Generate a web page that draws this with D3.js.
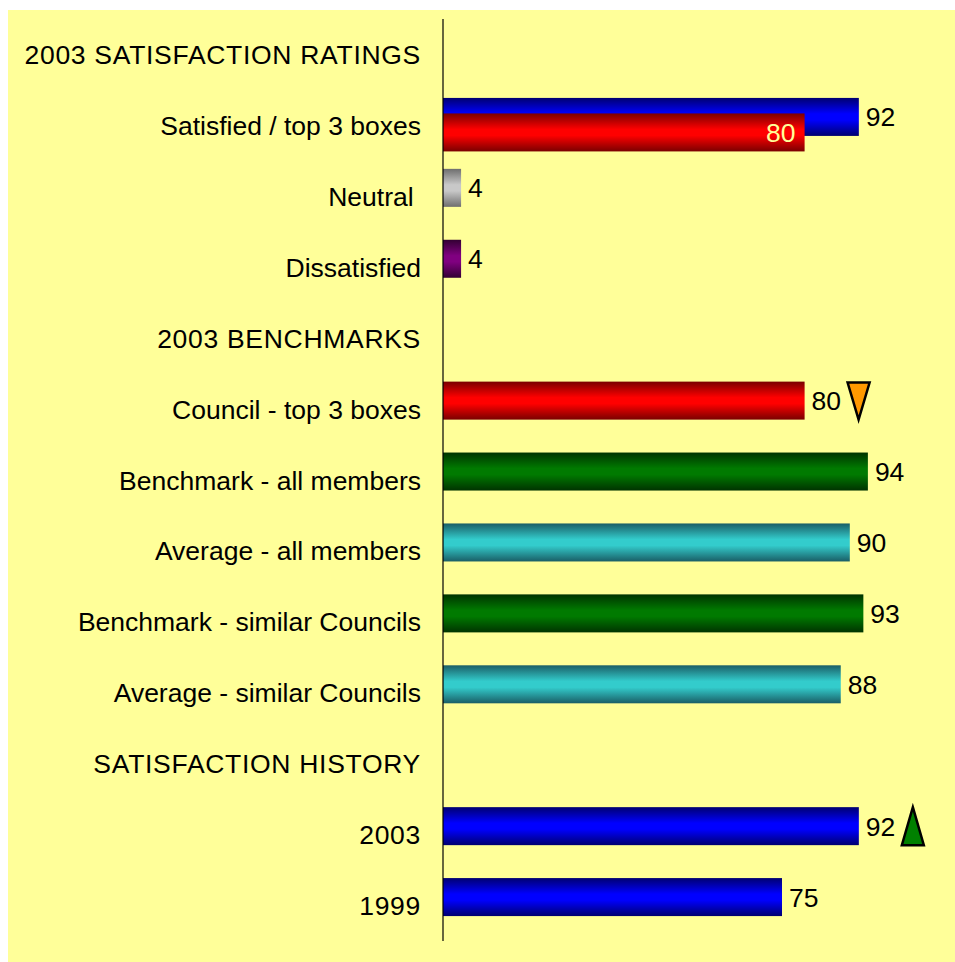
<!DOCTYPE html>
<html lang="en">
<head>
    <meta charset="UTF-8">
    <title>2003 Satisfaction Ratings</title>
    <script src="https://cdnjs.cloudflare.com/ajax/libs/d3/7.8.5/d3.min.js"></script>
    <style>
        body { margin: 0; background: #ffffff; }
        svg { display: block; }
        text { font-family: "Liberation Sans", Arial, sans-serif; }
    </style>
</head>
<body>
    <svg id="chart" width="955" height="962"></svg>

    <script>
        // Row labels, top to bottom (headings have no bar)
        const categories = [
            "2003 SATISFACTION RATINGS",
            "Satisfied / top 3 boxes",
            "Neutral ",
            "Dissatisfied",
            "2003 BENCHMARKS",
            "Council - top 3 boxes",
            "Benchmark - all members",
            "Average - all members",
            "Benchmark - similar Councils",
            "Average - similar Councils",
            "SATISFACTION HISTORY",
            "2003",
            "1999"
        ];

        // Bars: which row, value, series slot inside the row, colour key
        const barCategories = [
            "Satisfied / top 3 boxes", "Satisfied / top 3 boxes", "Neutral ", "Dissatisfied",
            "Council - top 3 boxes", "Benchmark - all members", "Average - all members",
            "Benchmark - similar Councils", "Average - similar Councils", "2003", "1999"
        ];
        const barValues = [92, 80, 4, 4, 80, 94, 90, 93, 88, 92, 75];
        const barSlots = [0, 1, 0, 0, 0, 0, 0, 0, 0, 0, 0];
        const barColors = ["blue", "red", "grey", "purple", "red", "green", "teal", "green", "teal", "blue", "blue"];
        // value label drawn inside the bar (light text) for the overlapping red bar
        const labelInside = [false, true, false, false, false, false, false, false, false, false, false];

        // Trend arrows next to some bars
        const markerCategories = ["Council - top 3 boxes", "2003"];
        const markerValues = [80, 92];
        const markerDirections = ["down", "up"];

        // gradient colours: [edge, middle]
        const palette = {
            blue:   ["#000070", "#0000ff"],
            red:    ["#7a0000", "#ff0000"],
            grey:   ["#6e6e6e", "#c8c8c8"],
            purple: ["#330033", "#800080"],
            green:  ["#003300", "#007a00"],
            teal:   ["#1a5e66", "#33cccc"]
        };
        const markerFill = { down: "#ff9900", up: "#008000" };

        const svg = d3.select("#chart");
        const width = 955, height = 962;

        // yellow chart area
        svg.append("rect")
            .attr("x", 8).attr("y", 10)
            .attr("width", width - 8).attr("height", height - 10)
            .attr("fill", "#ffff99");

        const x = d3.scaleLinear().domain([0, 100]).range([443, 895]);
        const y = d3.scaleBand().domain(categories).range([19, 941]).padding(0);

        const barH = 38;
        const barTop = 8;       // offset of first series inside the band
        const slotShift = 15.5; // overlap shift of the second series

        // vertical gradients
        const defs = svg.append("defs");
        Object.keys(palette).forEach((k) => {
            const g = defs.append("linearGradient")
                .attr("id", "grad-" + k)
                .attr("x1", 0).attr("y1", 0).attr("x2", 0).attr("y2", 1);
            g.append("stop").attr("offset", "0%").attr("stop-color", palette[k][0]);
            g.append("stop").attr("offset", "42%").attr("stop-color", palette[k][1]);
            g.append("stop").attr("offset", "58%").attr("stop-color", palette[k][1]);
            g.append("stop").attr("offset", "100%").attr("stop-color", palette[k][0]);
        });

        const bars = barValues.map((v, i) => ({
            category: barCategories[i],
            value: v,
            slot: barSlots[i],
            color: barColors[i],
            inside: labelInside[i]
        }));

        const barY = (d) => y(d.category) + barTop + d.slot * slotShift;

        svg.append("g")
            .selectAll("rect")
            .data(bars)
            .enter()
            .append("rect")
            .attr("x", x(0))
            .attr("y", (d) => barY(d))
            .attr("width", (d) => x(d.value) - x(0))
            .attr("height", barH)
            .attr("fill", (d) => "url(#grad-" + d.color + ")");

        // value labels
        svg.append("g")
            .selectAll("text")
            .data(bars)
            .enter()
            .append("text")
            .attr("x", (d) => d.inside ? x(d.value) - 9 : x(d.value) + 7)
            .attr("y", (d) => barY(d) + barH / 2)
            .attr("dy", "0.36em")
            .attr("text-anchor", (d) => d.inside ? "end" : "start")
            .attr("font-size", "26.5px")
            .attr("fill", (d) => d.inside ? "#ffff99" : "#000000")
            .text((d) => d.value);

        // category labels (section headings in capitals are set a little wider)
        svg.append("g")
            .selectAll("text")
            .data(categories)
            .enter()
            .append("text")
            .attr("x", 421)
            .attr("y", (d) => y(d) + y.bandwidth() / 2)
            .attr("dy", "0.36em")
            .attr("text-anchor", "end")
            .attr("font-size", "26.5px")
            .attr("letter-spacing", (d) => /[a-z]/.test(d) ? 0 : "0.7px")
            .attr("fill", "#000000")
            .style("white-space", "pre")
            .text((d) => d);

        // trend triangles
        const markers = markerValues.map((v, i) => ({
            category: markerCategories[i],
            value: v,
            dir: markerDirections[i]
        }));

        svg.append("g")
            .selectAll("path")
            .data(markers)
            .enter()
            .append("path")
            .attr("d", (d) => {
                const cx = x(d.value) + 54;
                const top = y(d.category) + barTop;
                const bot = top + 38;
                if (d.dir === "down") {
                    return `M${cx - 11},${top + 1}L${cx + 11},${top + 1}L${cx},${bot}Z`;
                }
                return `M${cx},${top}L${cx + 11},${bot}L${cx - 11},${bot}Z`;
            })
            .attr("fill", (d) => markerFill[d.dir])
            .attr("stroke", "#000000")
            .attr("stroke-width", 2.5)
            .attr("stroke-linejoin", "miter");

        // vertical category axis line
        svg.append("line")
            .attr("x1", x(0)).attr("x2", x(0))
            .attr("y1", 19).attr("y2", 941)
            .attr("stroke", "#000000")
            .attr("stroke-width", 1.2);
    </script>
</body>
</html>
